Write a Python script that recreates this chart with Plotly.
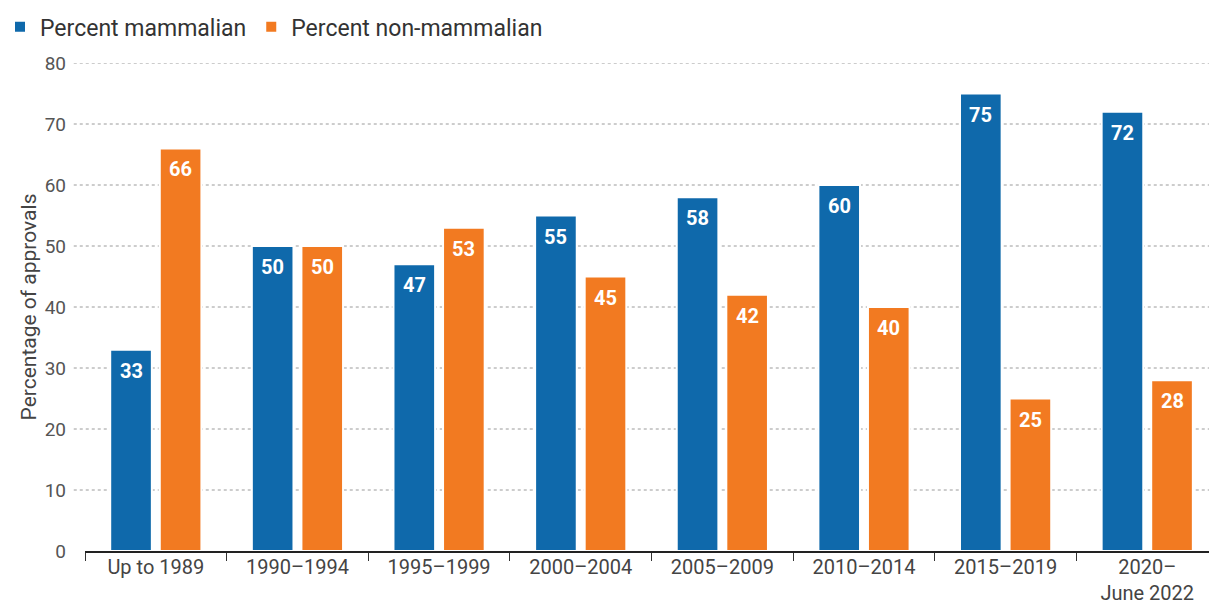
import plotly.graph_objects as go

periods = ["Up to 1989", "1990–1994", "1995–1999", "2000–2004",
           "2005–2009", "2010–2014", "2015–2019", "2020–<br>June 2022"]
mammalian = [33, 50, 47, 55, 58, 60, 75, 72]
non_mammalian = [66, 50, 53, 45, 42, 40, 25, 28]
y_ticks = [0, 10, 20, 30, 40, 50, 60, 70, 80]

BLUE = "#0f69ab"
ORANGE = "#f27a21"
FONT = "Roboto, Open Sans, sans-serif"

W, H = 1209, 607
ML, MR, MT, MB = 85, 0, 63, 56
X_RANGE = [-0.5, 7.436]
BARGAP, GROUPGAP = 0.30, 0.16

fig = go.Figure()
series = [("Percent mammalian", mammalian, BLUE),
          ("Percent non-mammalian", non_mammalian, ORANGE)]
for name, vals, col in series:
    fig.add_trace(go.Bar(
        name=name, x=periods, y=vals,
        marker=dict(color=col, line=dict(color="white", width=2)),
    ))

# value labels sit just under each bar top, shifted onto their bar in the group
px_per_cat = (W - ML - MR) / (X_RANGE[1] - X_RANGE[0])
slot = px_per_cat * (1 - BARGAP) / len(series)
annotations = []
for i, (name, vals, col) in enumerate(series):
    shift = (i - (len(series) - 1) / 2) * slot
    for cat, v in zip(periods, vals):
        annotations.append(dict(
            x=cat, y=v, xref="x", yref="y", text=str(v), showarrow=False,
            xshift=shift, yshift=-21, xanchor="center", yanchor="middle",
            font=dict(family=FONT, size=20, color="white", weight="bold")))

# dotted horizontal guides that run a little past the axis start
shapes = []
for v in y_ticks[1:]:
    shapes.append(dict(type="line", xref="paper", yref="y", x0=-0.01, x1=1,
                       y0=v, y1=v, layer="below",
                       line=dict(color="#9a9a9a", width=1, dash="dot")))

fig.update_layout(
    width=W, height=H,
    margin=dict(l=ML, r=MR, t=MT, b=MB, autoexpand=False),
    paper_bgcolor="white", plot_bgcolor="white",
    font=dict(family=FONT, size=19, color="#444"),
    barmode="group", bargap=BARGAP, bargroupgap=GROUPGAP,
    showlegend=True,
    legend=dict(orientation="h", x=-ML / (W - ML - MR), xanchor="left",
                y=1.074, yanchor="middle",
                font=dict(size=23, color="#333"), itemwidth=30,
                traceorder="normal", itemclick=False),
    shapes=shapes,
    annotations=annotations,
    xaxis=dict(type="category", range=X_RANGE, automargin=False,
               showline=True, linecolor="#222", linewidth=2,
               ticks="outside", tickson="boundaries", ticklen=8,
               tickcolor="#333", tickwidth=1, ticklabelstandoff=-3,
               tickfont=dict(size=20, color="#444"), showgrid=False),
    yaxis=dict(range=[0, 80], tickvals=y_ticks, showgrid=False, automargin=False,
               zeroline=False, showline=False, ticks="",
               ticklabelstandoff=18,
               tickfont=dict(size=19, color="#555"),
               title=dict(text="Percentage of approvals", standoff=2,
                          font=dict(size=21, color="#444"))),
)

fig.write_html("out.html")
